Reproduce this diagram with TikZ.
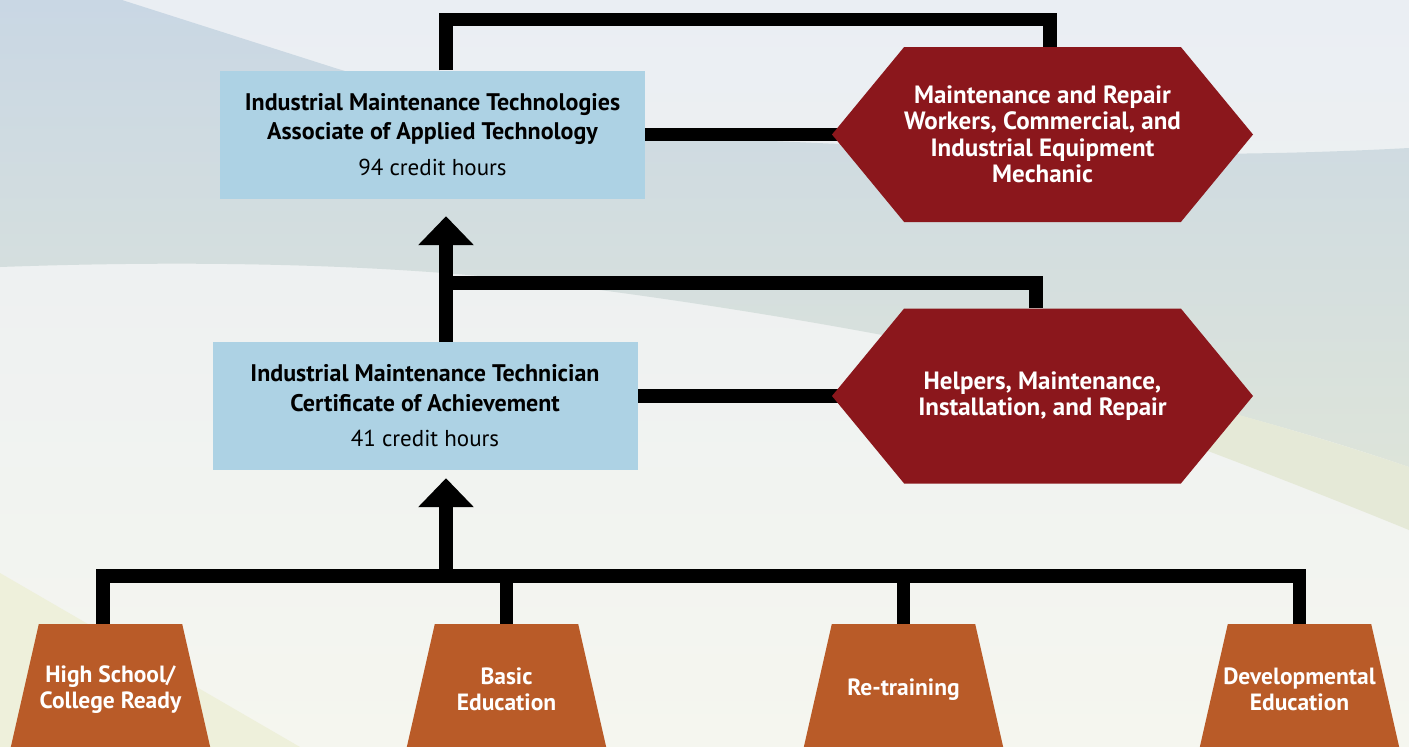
\documentclass[tikz,border=0pt]{standalone}
\usepackage{fontspec}
\setmainfont{PT Sans}
\usetikzlibrary{arrows.meta,shapes.symbols}

\definecolor{boxblue}{HTML}{ADD2E4}
\definecolor{jobred}{HTML}{8B171C}
\definecolor{entryorange}{HTML}{B95B28}
\definecolor{skytop}{HTML}{EAEEF3}
\definecolor{cream}{HTML}{F5F6EF}
\definecolor{bandtop}{HTML}{C9D7E4}
\definecolor{bandbot}{HTML}{DDE4DA}
\definecolor{meadow}{HTML}{E5E9D7}
\definecolor{straw}{HTML}{EEF0DB}

\pgfdeclarelayer{bg}
\pgfdeclarelayer{links}
\pgfsetlayers{bg,links,main}

\tikzset{
	credential/.style={fill=boxblue, minimum width=425pt, minimum height=128pt, inner sep=0pt, align=center, font=\fontsize{24}{29.5}\selectfont\bfseries},
	career/.style={signal, signal to=east and west, signal pointer angle=101, fill=jobred, text=white, minimum width=421pt, minimum height=175pt, inner sep=0pt, align=center, font=\fontsize{25}{26.5}\selectfont\bfseries},
	entry/.style={minimum width=203pt, minimum height=131pt, inner sep=0pt, text=white, align=center, font=\fontsize{23.5}{26}\selectfont\bfseries,
		path picture={\fill[entryorange] ([xshift=29.8pt]path picture bounding box.north west) -- ([xshift=-29.8pt]path picture bounding box.north east) -- (path picture bounding box.south east) -- (path picture bounding box.south west) -- cycle;}},
	link/.style={draw=black, line width=13.5pt},
	uparrow/.style={link, -{Triangle[width=54pt,length=29pt]}}
}

\begin{document}
\begin{tikzpicture}[x=1pt,y=-1pt]
	\useasboundingbox (0,0) rectangle (1409,747);
	%Hintergrund
	\begin{pgfonlayer}{bg}
		\shade[top color=skytop, bottom color=cream] (0,0) rectangle (1409,747);
		\shade[top color=bandtop, bottom color=bandbot] (0,0) -- (122,0) -- (335,68) .. controls (480,112) and (580,134) .. (700,138) .. controls (950,148) and (1150,162) .. (1409,148) -- (1409,467) .. controls (1200,395) and (900,330) .. (600,290) .. controls (450,268) and (250,258) .. (0,267) -- cycle;
		\fill[meadow] (900,338) .. controls (1100,372) and (1300,430) .. (1409,467) -- (1409,530) .. controls (1250,465) and (1100,410) .. (900,338);
		\fill[straw] (0,573) -- (300,747) -- (0,747) -- cycle;
	\end{pgfonlayer}

	%Abschluesse
	\node[credential] (aat) at (432.5,134.5) {Industrial Maintenance Technologies\\Associate of Applied Technology\\[6pt]{\mdseries\fontsize{23}{29.5}\selectfont 94 credit hours}};
	\node[credential] (cert) at (425,406) {Industrial Maintenance Technician\\Certificate of Achievement\\[6pt]{\mdseries\fontsize{23}{29.5}\selectfont 41 credit hours}};

	%Berufe
	\node[career] (mech) at (1042.5,134.5) {Maintenance and Repair\\Workers, Commercial, and\\Industrial Equipment\\Mechanic};
	\node[career] (helper) at (1042.5,396) {Helpers, Maintenance,\\Installation, and Repair};

	%Einstiege
	\node[entry] (hs) at (110.5,689.5) {High School/\\College Ready};
	\node[entry] (basic) at (506.5,689.5) {Basic\\Education};
	\node[entry] (retrain) at (903.5,689.5) {Re-training};
	\node[entry] (dev) at (1299.5,689.5) {Developmental\\Education};

	%Verbindungen
	\coordinate (spine) at (446,0);
	\coordinate (bar) at (446,576);
	\coordinate (midbend) at (1036,283);
	\coordinate (topbend) at (1050,19.5);
	\coordinate (certtip) at ([yshift=-8pt]cert.south);
	\coordinate (aattip) at ([yshift=-17.5pt]aat.south);
	\begin{pgfonlayer}{links}
		\draw[link] ([xshift=-7.5pt]hs.north) |- (dev.north |- bar) -- (dev.north);
		\draw[link] (basic.north) -- (basic.north |- bar);
		\draw[link] (retrain.north) -- (retrain.north |- bar);
		\draw[uparrow] (bar) -- (certtip -| spine);
		\draw[uparrow] (cert.north -| spine) -- (aattip -| spine);
		\draw[link] (spine |- midbend) -| (midbend |- helper.north);
		\draw[link] (aat.north -| spine) |- (topbend) -- (topbend |- mech.north);
		\draw[link] (aat.east) -- ([xshift=10pt]mech.west);
		\draw[link] (cert.east |- helper.west) -- ([xshift=10pt]helper.west);
	\end{pgfonlayer}
\end{tikzpicture}
\end{document}
